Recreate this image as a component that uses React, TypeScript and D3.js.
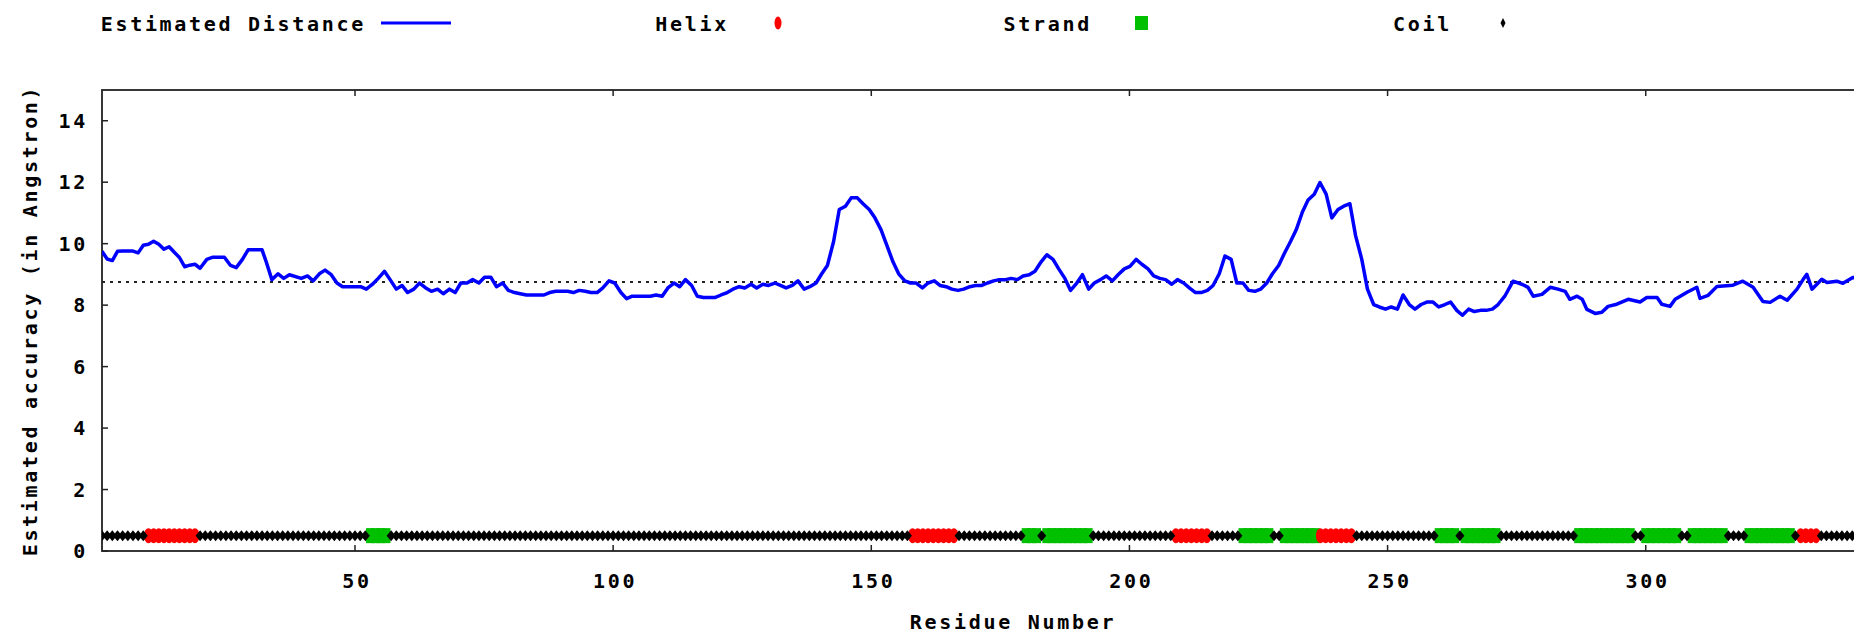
import React from 'react';
import * as d3 from 'd3';

// residue positions, with the estimated distance at each
const residues = [
  1, 2, 3, 4, 5, 6, 7, 8, 9, 10, 11, 12, 13, 14, 15, 16, 17, 18, 19, 20,
  21.3, 22.5, 24.7, 25.9, 27, 28.2, 29.3, 32, 32.8, 33.9, 35.1, 36.2, 37.3, 39.6, 40.8, 41.9,
  43.1, 44.2, 45.4, 46.5, 47.6, 51.1, 52.2, 53.4, 54.5, 55.7, 56.8, 58, 59.1, 60.2, 61.4, 62.5,
  63.7, 64.8, 66, 67.1, 68.3, 69.4, 70.5, 71.7, 72.8, 74, 75.1, 76.3, 77.4, 78.6, 79.7, 80.9,
  82, 83.2, 86.6, 87.7, 88.9, 91.2, 92.3, 93.4, 94.6, 95.7, 96.9, 98, 99.2, 100.3, 101.5, 102.6,
  103.7, 107.2, 108.3, 109.5, 110.6, 111.8, 112.9, 114, 115.2, 116.3, 117.5, 119.8, 120.9, 122.1,
  123.2, 124.4, 125.5, 126.7, 127.8, 129, 130.1, 131.3, 132.4, 133.5, 134.7, 135.8, 137, 138.1,
  139.3, 140.4, 141.5, 142.7, 143.8, 145, 146.1, 147.3, 148.4, 149.6, 150.7, 151.9, 153, 154.2,
  155.3, 156.5, 157.6, 158.7, 159.9, 161, 162.2, 163.3, 164.5, 165.6, 166.8, 167.9, 169.1, 170.2,
  171.4, 172.5, 173.7, 174.8, 176, 177.1, 178.3, 179.4, 180.6, 181.7, 182.9, 184, 185.2, 186.3,
  187.5, 188.6, 189.8, 190.9, 192.1, 193.2, 194.4, 195.5, 196.7, 197.8, 199, 200.1, 201.3, 202.4,
  203.6, 204.7, 205.9, 207, 208.2, 209.3, 210.5, 211.6, 212.8, 213.9, 215.1, 216.2, 217.4, 218.5,
  219.7, 220.8, 222, 223.1, 224.3, 225.4, 226.6, 227.7, 228.9, 230, 231.2, 232.3, 233.5, 234.6,
  235.8, 236.9, 238.1, 239.2, 240.4, 241.5, 242.7, 243.8, 245, 246.1, 247.3, 248.4, 249.6, 250.7,
  251.9, 253, 254.2, 255.3, 256.5, 257.6, 258.8, 259.9, 261.1, 262.2, 263.4, 264.5, 265.7, 266.8,
  268, 269.1, 270.3, 271.4, 272.7, 274.3, 276, 277.2, 278.2, 279.9, 281.5, 283, 284.4, 285.3,
  286.7, 287.7, 288.6, 290.2, 291.5, 292.7, 294.4, 296.6, 298.9, 300.2, 302.2, 303.1, 304.7, 305.7,
  308, 309.9, 310.5, 312.1, 313.8, 316.9, 318.8, 320.8, 322.7, 324.1, 326, 327.4, 329.3, 330.5,
  331.2, 332.2, 334.1, 335.1, 337, 338.2, 340.1, 341,
];
const distance = [
  9.75, 9.5, 9.45, 9.75, 9.76, 9.76, 9.76, 9.7, 9.95, 9.98, 10.08, 9.98, 9.82, 9.9, 9.72, 9.55, 9.25, 9.3, 9.33, 9.2,
  9.49, 9.56, 9.56, 9.29, 9.22, 9.49, 9.8, 9.8, 9.41, 8.83, 9.02, 8.87, 8.99, 8.87, 8.95, 8.79,
  9.02, 9.14, 8.99, 8.72, 8.6, 8.6, 8.52, 8.68, 8.87, 9.1, 8.83, 8.52, 8.64, 8.41, 8.52, 8.72,
  8.56, 8.45, 8.52, 8.37, 8.52, 8.41, 8.72, 8.72, 8.83, 8.72, 8.91, 8.91, 8.6, 8.72, 8.48, 8.41,
  8.37, 8.33, 8.33, 8.41, 8.45, 8.45, 8.41, 8.48, 8.45, 8.41, 8.41, 8.56, 8.79, 8.72, 8.41, 8.21,
  8.29, 8.29, 8.33, 8.29, 8.56, 8.72, 8.6, 8.83, 8.64, 8.29, 8.25, 8.25, 8.33, 8.41,
  8.52, 8.6, 8.56, 8.68, 8.56, 8.68, 8.64, 8.72, 8.64, 8.56, 8.64, 8.79, 8.52, 8.6,
  8.72, 9.02, 9.29, 10.07, 11.11, 11.22, 11.49, 11.49, 11.3, 11.11, 10.84, 10.45, 9.95, 9.41,
  9.02, 8.79, 8.72, 8.72, 8.56, 8.72, 8.79, 8.64, 8.6, 8.52, 8.48, 8.52, 8.6, 8.64,
  8.64, 8.72, 8.79, 8.83, 8.83, 8.87, 8.83, 8.95, 8.99, 9.1, 9.41, 9.64, 9.49, 9.18,
  8.87, 8.48, 8.72, 8.99, 8.52, 8.72, 8.83, 8.95, 8.79, 8.99, 9.18, 9.26, 9.49, 9.33,
  9.18, 8.95, 8.87, 8.83, 8.68, 8.83, 8.72, 8.56, 8.41, 8.41, 8.48, 8.64, 9.02, 9.6,
  9.49, 8.72, 8.72, 8.48, 8.45, 8.52, 8.72, 9.02, 9.29, 9.68, 10.07, 10.45, 11.03, 11.42,
  11.61, 11.99, 11.61, 10.84, 11.11, 11.22, 11.3, 10.26, 9.49, 8.52, 8.02, 7.94, 7.87, 7.94,
  7.87, 8.33, 8.02, 7.87, 8.02, 8.1, 8.1, 7.94, 8.02, 8.1, 7.83, 7.67, 7.87, 7.79,
  7.83, 7.83, 7.87, 8.02, 8.29, 8.78, 8.68, 8.58, 8.29, 8.35, 8.58, 8.52, 8.45, 8.19,
  8.29, 8.19, 7.86, 7.73, 7.77, 7.96, 8.03, 8.19, 8.1, 8.25, 8.25, 8.03, 7.96, 8.19,
  8.42, 8.58, 8.22, 8.32, 8.61, 8.65, 8.78, 8.58, 8.12, 8.09, 8.29, 8.16, 8.52, 8.84,
  9.0, 8.52, 8.84, 8.74, 8.78, 8.71, 8.9, 8.88,
];

const meanDistance = 8.75;
const residueCount = 354;
const helixRanges = [[10, 19], [158, 166], [209, 215], [237, 243], [330, 333]];
const strandRanges = [
  [53, 56], [180, 182], [184, 192], [222, 227], [230, 236], [260, 263], [265, 271],
  [287, 297], [300, 306], [309, 315], [320, 328],
];
const xTicks = [50, 100, 150, 200, 250, 300];
const yTicks = [0, 2, 4, 6, 8, 10, 12, 14];

const FONT = "'DejaVu Sans Mono', monospace";
const txt = { fontFamily: FONT, fontWeight: 'bold', fontSize: 20, letterSpacing: '2.7px', fill: '#000' } as const;

const W = 1854;
const H = 640;
const left = 102;
const top = 90;
const bottom = 551;

export default function App() {
  const x = d3.scaleLinear().domain([1, residueCount]).range([left, left + (residueCount - 1) * 5.163]);
  const y = d3.scaleLinear().domain([0, 15]).range([bottom, top]);
  const right = x(residueCount);

  const line = d3.line<number>()
    .x((_, i) => x(residues[i]))
    .y(d => y(d));

  const ss: string[] = d3.range(residueCount + 1).map(() => 'C');
  helixRanges.forEach(([a, b]) => d3.range(a, b + 1).forEach(r => (ss[r] = 'H')));
  strandRanges.forEach(([a, b]) => d3.range(a, b + 1).forEach(r => (ss[r] = 'E')));
  const all = d3.range(1, residueCount + 1);
  const ssY = y(0.5);

  const diamond = (cx: number, cy: number, hw: number, hh: number) =>
    `M${cx - hw},${cy}L${cx},${cy - hh}L${cx + hw},${cy}L${cx},${cy + hh}Z`;

  return (
    <svg width={W} height={H} style={{ position: 'absolute', left: 0, top: 0, display: 'block', background: '#fff' }}>
      <defs>
        <clipPath id="plot">
          <rect x={left} y={top} width={right - left} height={bottom - top} />
        </clipPath>
      </defs>

      {/* legend */}
      <text {...txt} x={366} y={31} textAnchor="end">Estimated Distance</text>
      <line x1={381} x2={451} y1={23} y2={23} stroke="#0000ff" strokeWidth={3} />
      <text {...txt} x={729} y={31} textAnchor="end">Helix</text>
      <ellipse cx={778} cy={23} rx={3.5} ry={6.5} fill="#ff0000" />
      <text {...txt} x={1092} y={31} textAnchor="end">Strand</text>
      <rect x={1135} y={16} width={13} height={14} fill="#00c000" />
      <text {...txt} x={1452} y={31} textAnchor="end">Coil</text>
      <path d={diamond(1503, 23, 2.5, 5)} fill="#000" />

      {/* border and ticks */}
      <rect x={left} y={top} width={right - left} height={bottom - top} fill="none" stroke="#222" strokeWidth={1.8} />
      {xTicks.map(t => (
        <g key={t}>
          <line x1={x(t)} x2={x(t)} y1={bottom} y2={bottom - 6} stroke="#222" strokeWidth={1.5} />
          <line x1={x(t)} x2={x(t)} y1={top} y2={top + 6} stroke="#222" strokeWidth={1.5} />
          <text {...txt} x={x(t) + 2} y={588} textAnchor="middle">{t}</text>
        </g>
      ))}
      {yTicks.map(t => (
        <g key={t}>
          <line x1={left} x2={left + 6} y1={y(t)} y2={y(t)} stroke="#222" strokeWidth={1.5} />
          <text {...txt} x={88} y={y(t) + 7} textAnchor="end">{t}</text>
        </g>
      ))}

      {/* axis titles */}
      <text {...txt} x={1013} y={629} textAnchor="middle">Residue Number</text>
      <text {...txt} transform={`translate(37,${(top + bottom) / 2}) rotate(-90)`} textAnchor="middle">
        Estimated accuracy (in Angstron)
      </text>

      <g clipPath="url(#plot)">
        <line x1={left} x2={right} y1={y(meanDistance)} y2={y(meanDistance)} stroke="#222" strokeWidth={2} strokeDasharray="3,5" />
        <path d={line(distance) || ''} fill="none" stroke="#0000ff" strokeWidth={3.5} strokeLinejoin="round" />

        {/* secondary structure track */}
        {all.filter(r => ss[r] === 'E').map(r => (
          <rect key={'e' + r} x={x(r) - 4.5} y={ssY - 7.5} width={9} height={15} fill="#00c000" />
        ))}
        {all.filter(r => ss[r] === 'H').map(r => (
          <ellipse key={'h' + r} cx={x(r)} cy={ssY} rx={4.5} ry={7.5} fill="#ff0000" />
        ))}
        {all.filter(r => ss[r] === 'C').map(r => (
          <path key={'c' + r} d={diamond(x(r), ssY, 4.5, 5.5)} fill="#000" />
        ))}
      </g>
    </svg>
  );
}
